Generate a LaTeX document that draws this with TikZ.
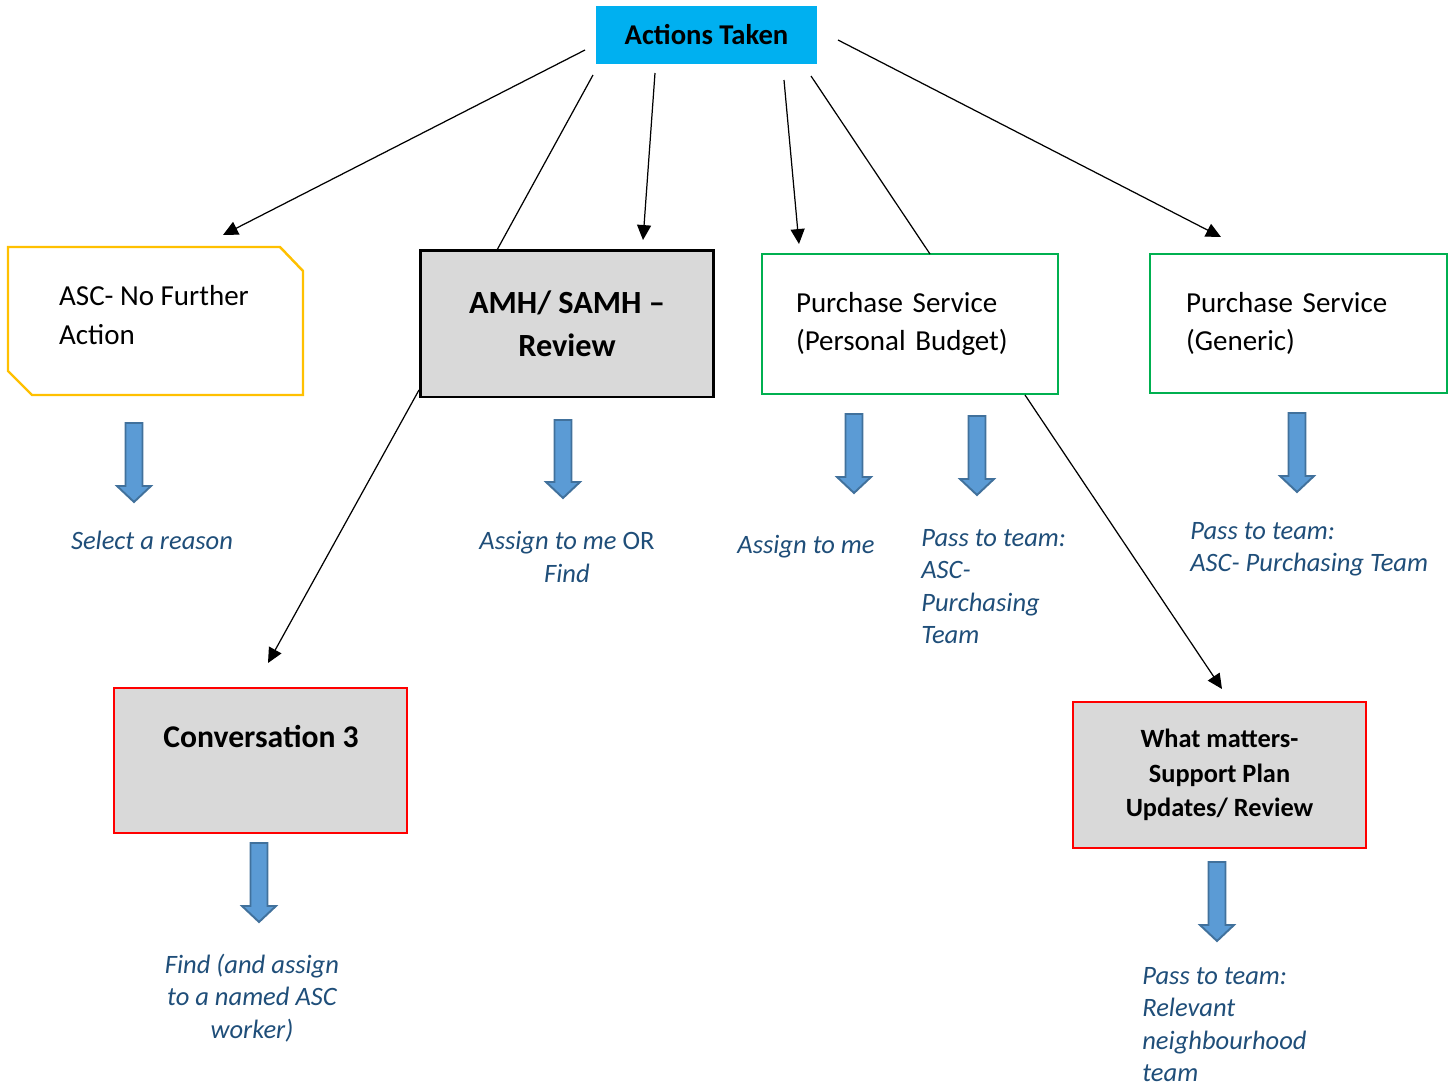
\documentclass[tikz,border=0pt]{standalone}
\usepackage{fontspec}
\setmainfont{Carlito}
\usetikzlibrary{arrows.meta}
\definecolor{headcyan}{HTML}{00B0F0}
\definecolor{ascyellow}{HTML}{FFC000}
\definecolor{buygreen}{HTML}{00B050}
\definecolor{boxgray}{HTML}{D9D9D9}
\definecolor{labblue}{HTML}{1F4E79}
\definecolor{arrfill}{HTML}{5B9BD5}
\definecolor{arrline}{HTML}{41719C}
\tikzset{
  greenbox/.style={draw=buygreen, line width=1.2pt, align=left,
    font=\fontsize{16.5}{22}\selectfont},
  redbox/.style={draw=red, fill=boxgray, line width=1.2pt, align=center},
  labtext/.style={font=\fontsize{15.1}{18.4}\selectfont\itshape, text=labblue, inner sep=0pt},
  bluearrow/.style={fill=arrfill, draw=arrline, line width=1.1pt, line join=miter},
  link/.style={line width=0.7pt}
}
\newcommand{\bluedown}[3]{%
  \draw[bluearrow] (#1-8.5,#2) -- (#1+8.5,#2) -- (#1+8.5,#3-16) -- (#1+17,#3-16)
    -- (#1,#3) -- (#1-17,#3-16) -- (#1-8.5,#3-16) -- cycle;}
\begin{document}
\begin{tikzpicture}[x=0.02cm, y=-0.02cm, >={Triangle[length=8.5pt,width=8pt]}]
  \useasboundingbox (0,0) rectangle (1455,1086);
  % boxes
  \node[fill=headcyan, minimum width=4.42cm, minimum height=1.16cm,
    font=\fontsize{16.3}{20}\selectfont\bfseries] (act) at (706.5,35) {Actions Taken};
  \draw[draw=ascyellow, line width=1.4pt]
    (8,247) -- (280,247) -- (303,271) -- (303,395) -- (32,395) -- (8,371) -- cycle;
  \node[align=left, font=\fontsize{16.5}{22}\selectfont] (asc) at (154,315)
    {ASC- No Further\\Action};
  \node[draw=black, fill=boxgray, line width=1.7pt, minimum width=5.88cm,
    minimum height=2.94cm, align=center, font=\fontsize{18.4}{24.4}\selectfont\bfseries]
    (amh) at (567,323.5) {AMH/ SAMH --\\Review};
  \node[greenbox, minimum width=5.92cm, minimum height=2.8cm, inner xsep=0.68cm,
    text width=4.56cm] (pb) at (910,324)
    {Purchase Service\\(Personal Budget)};
  \node[greenbox, minimum width=5.94cm, minimum height=2.78cm, inner xsep=0.72cm,
    text width=4.5cm] (gen) at (1298.5,323.5)
    {Purchase Service\\(Generic)};
  \node[redbox, minimum width=5.86cm, minimum height=2.9cm] (conv) at (260.5,760.5) {};
  \node[font=\fontsize{18}{22}\selectfont\bfseries] (convt) at (261,736) {Conversation 3};
  \node[redbox, minimum width=5.86cm, minimum height=2.92cm,
    font=\fontsize{15}{19.8}\selectfont\bfseries] (what) at (1219.5,775)
    {What matters-\\Support Plan\\Updates/ Review};
  % connector ends
  \coordinate (s1) at (585,50);   \coordinate (e1) at (223,235);
  \coordinate (s2) at (593,75);   \coordinate (e2) at (497,250);
  \coordinate (s3) at (655,73);   \coordinate (e3) at (643,240);
  \coordinate (s4) at (784,80);   \coordinate (e4) at (799,244);
  \coordinate (s5) at (811,76);   \coordinate (e5) at (930,254);
  \coordinate (s6) at (838,40);   \coordinate (e6) at (1221,237);
  \coordinate (s7) at (419,390);  \coordinate (e7) at (268,663);
  \coordinate (s8) at (1025,395); \coordinate (e8) at (1222,689);
  \draw[link, ->] (s1) -- (e1);
  \draw[link] (s2) -- (e2);
  \draw[link, ->] (s3) -- (e3);
  \draw[link, ->] (s4) -- (e4);
  \draw[link] (s5) -- (e5);
  \draw[link, ->] (s6) -- (e6);
  \draw[link, ->] (s7) -- (e7);
  \draw[link, ->] (s8) -- (e8);
  % block arrows
  \bluedown{134}{423}{502}
  \bluedown{563}{420}{498}
  \bluedown{854}{414}{493}
  \bluedown{977}{416}{495}
  \bluedown{1297}{413}{492}
  \bluedown{259}{843}{922}
  \bluedown{1217}{862}{941}
  % labels
  \node[labtext] (sel) at (152,540) {Select a reason};
  \node[labtext, align=center] (mefind) at (567,557) {Assign to me {\upshape OR}\\Find};
  \node[labtext] (me) at (806,547) {Assign to me};
  \node[labtext, align=left, anchor=west] (passa) at (921,586.5)
    {Pass to team:\\ASC-\\Purchasing\\Team};
  \node[labtext, align=left, anchor=west] (passb) at (1190,549.5)
    {Pass to team:\\ASC- Purchasing Team};
  \node[labtext, align=center] (findc) at (252,998)
    {Find (and assign\\to a named ASC\\worker)};
  \node[labtext, align=left, anchor=west] (passc) at (1142,1024.5)
    {Pass to team:\\Relevant\\neighbourhood\\team};
\end{tikzpicture}
\end{document}
